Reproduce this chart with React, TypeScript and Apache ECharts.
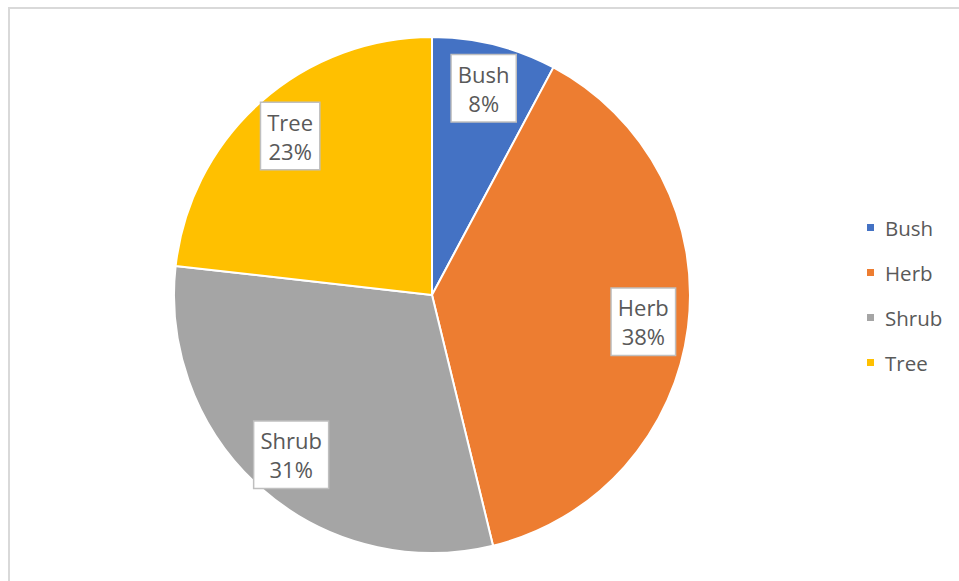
import React, { useEffect, useRef } from "react";
import * as echarts from "echarts";

const categories = ["Bush", "Herb", "Shrub", "Tree"];
const values = [7.8, 38.4, 30.6, 23.2];
const colors = ["#4472C4", "#ED7D31", "#A5A5A5", "#FFC000"];

export default function App() {
  const ref = useRef<HTMLDivElement>(null);
  useEffect(() => {
    if (!ref.current) return;
    const chart = echarts.init(ref.current, undefined, { renderer: "svg" });
    const data = categories.map((name, i) => ({ name, value: values[i] }));
    chart.setOption({
      animation: false,
      backgroundColor: "#ffffff",
      color: colors,
      graphic: [
        {
          type: "rect",
          shape: { x: 9, y: 8, width: 1000, height: 1000 },
          style: { fill: "none", stroke: "#d9d9d9", lineWidth: 2 },
          silent: true,
        },
      ],
      legend: {
        orient: "vertical",
        left: 860,
        top: 212,
        data: categories,
        icon: "rect",
        itemWidth: 9,
        itemHeight: 9,
        itemGap: 24,
        selectedMode: false,
        textStyle: {
          color: "#595959",
          fontSize: 20.5,
          lineHeight: 20.5,
          fontFamily: "Open Sans",
          padding: [0, 0, 0, 5],
        },
      },
      series: [
        {
          type: "pie",
          center: [432, 295],
          radius: [0, 258],
          startAngle: 90,
          clockwise: true,
          percentPrecision: 0,
          silent: true,
          label: { show: false },
          labelLine: { show: false },
          itemStyle: { borderColor: "#ffffff", borderWidth: 2 },
          data,
        },
        {
          type: "pie",
          center: [432, 295],
          radius: [162, 258],
          startAngle: 90,
          clockwise: true,
          percentPrecision: 0,
          silent: true,
          z: 5,
          itemStyle: { color: "rgba(0,0,0,0)", borderWidth: 0 },
          labelLine: { show: false },
          label: {
            show: true,
            position: "inside",
            formatter: "{b}\n{d}%",
            color: "#595959",
            fontSize: 22,
            lineHeight: 29,
            fontFamily: "Open Sans",
            align: "center",
            backgroundColor: "#ffffff",
            borderColor: "#bfbfbf",
            borderWidth: 1.5,
            padding: [4, 6],
          },
          data,
        },
      ],
    });
    return () => chart.dispose();
  }, []);
  return (
    <div
      ref={ref}
      style={{ position: "fixed", left: 0, top: 0, width: 959, height: 581 }}
    />
  );
}
